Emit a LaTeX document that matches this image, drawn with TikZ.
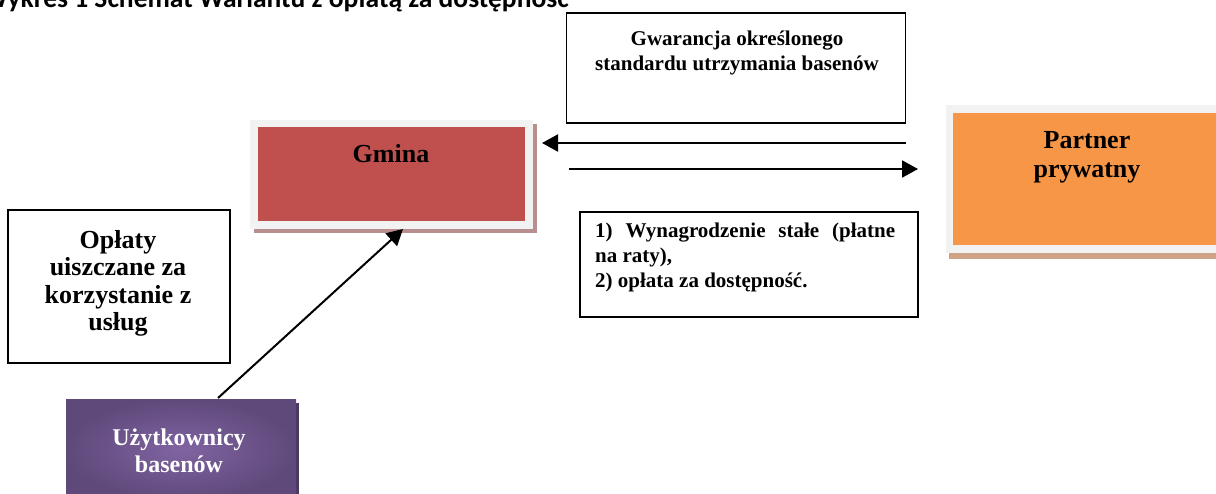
\documentclass[tikz,border=0pt]{standalone}
\usepackage{fontspec}
\setmainfont{Liberation Serif}
\newfontfamily\titlefont{Carlito}
\usetikzlibrary{arrows.meta}
\definecolor{framegray}{HTML}{F2F2F2}
\definecolor{gminared}{HTML}{C0504D}
\definecolor{gminashadow}{HTML}{B98E8E}
\definecolor{partnerorange}{HTML}{F79646}
\definecolor{partnershadow}{HTML}{CFA386}
\definecolor{userin}{HTML}{8064A2}
\definecolor{userout}{HTML}{5F497A}
\definecolor{usershadow}{HTML}{4A3A60}
\tikzset{
  txtbox/.style={draw=black,line width=1.6pt,fill=white,inner sep=0pt},
  bigtxt/.style={font=\bfseries\fontsize{26}{27.5}\selectfont,inner sep=0pt,anchor=base},
  midtxt/.style={font=\bfseries\fontsize{21}{25}\selectfont,inner sep=0pt,anchor=base},
  flow/.style={line width=2pt,-{Triangle[length=16pt,width=17pt]}},
}
\begin{document}
\begin{tikzpicture}[x=1pt,y=-1pt]
\useasboundingbox (0,0) rectangle (1216,493);
\clip (0,0) rectangle (1216,493);
% title (cut off at the top)
\node[anchor=base west,inner sep=0pt,font=\titlefont\bfseries\fontsize{27.5}{30}\selectfont] (title) at (-17,7) {Wykres 1 Schemat Wariantu z opłatą za dostępność};
% Gwarancja box
\node[txtbox,minimum width=339pt,minimum height=110pt] (gwar) at (736,68) {};
\node[midtxt] (gwartxt) at (737,45) {\begin{tabular}[t]{@{}c@{}}Gwarancja określonego\\ standardu utrzymania basenów\end{tabular}};
% Gmina
\fill[gminashadow] (254,124) rectangle (537,233);
\fill[framegray] (250,120) rectangle (533,229);
\node[fill=gminared,inner sep=0pt,minimum width=267pt,minimum height=94pt] (gmina) at (391.5,174) {};
\node[bigtxt] (gminatxt) at (391,162) {Gmina};
% Partner
\fill[partnershadow] (949,109) rectangle (1230,259);
\fill[framegray] (946,105) rectangle (1230,253);
\node[fill=partnerorange,inner sep=0pt,minimum width=280pt,minimum height=132pt] (partner) at (1093,179) {};
\node[bigtxt] (partnertxt) at (1087,148) {\begin{tabular}[t]{@{}c@{}}Partner\\[1.5pt] prywatny\end{tabular}};
% Oplaty box
\node[txtbox,minimum width=222pt,minimum height=153pt] (oplaty) at (119,286.5) {};
\node[bigtxt] (oplatytxt) at (118,248) {\begin{tabular}[t]{@{}c@{}}Opłaty\\ uiszczane za\\ korzystanie z\\ usług\end{tabular}};
% Wynagrodzenie box
\node[txtbox,minimum width=338pt,minimum height=105pt] (wyn) at (749,264.5) {};
\node[midtxt,anchor=base west] (wyntxt) at (595,237) {\parbox[t]{300pt}{\noindent 1) Wynagrodzenie stałe (płatne\linebreak na raty),\\ 2) opłata za dostępność.}};
% Uzytkownicy
\fill[usershadow] (70,403) rectangle (299,497);
\shade[inner color=userin,outer color=userout] (66,399) rectangle (296,500);
\node[font=\bfseries\fontsize{24}{27}\selectfont,text=white,inner sep=0pt,anchor=base] (users) at (179,445) {\begin{tabular}[t]{@{}c@{}}Użytkownicy\\ basenów\end{tabular}};
% connectors
\coordinate (pl) at (906,143);
\coordinate (gr) at (542,143);
\coordinate (gl) at (569,169);
\coordinate (pr) at (918,169);
\coordinate (us) at (218,398);
\coordinate (gb) at (403,229);
\draw[flow] (pl) -- (gr);
\draw[flow] (gl) -- (pr);
\draw[flow] (us) -- (gb);
\end{tikzpicture}
\end{document}
